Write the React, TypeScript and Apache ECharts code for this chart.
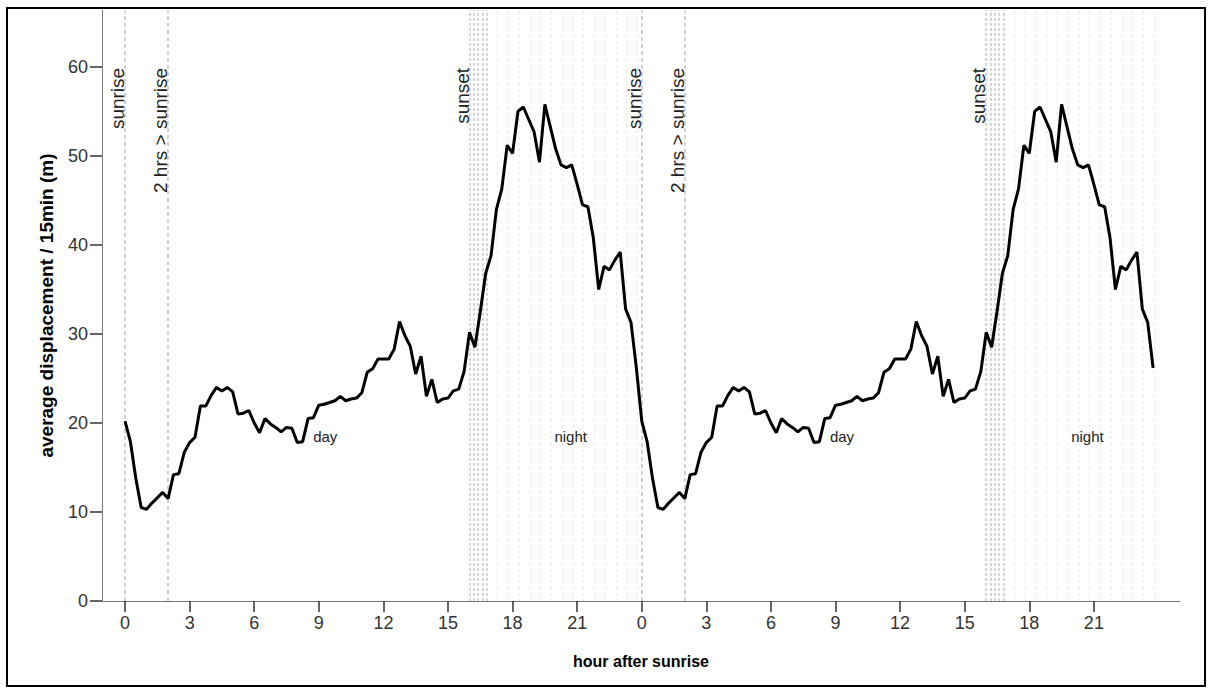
import React, { useEffect, useRef } from "react";
import * as echarts from "echarts";

// average displacement per 15-min slot, starting at sunrise (96 slots = 24 h)
const dayValues = [
  20.2, 17.9, 13.8, 10.5, 10.3, 11.0, 11.6, 12.2, 11.5, 14.2, 14.3, 16.7,
  17.8, 18.4, 21.9, 21.9, 23.1, 24.0, 23.6, 24.0, 23.5, 21.0, 21.1, 21.4,
  20.0, 18.9, 20.5, 19.9, 19.5, 19.0, 19.5, 19.4, 17.8, 17.9, 20.5, 20.6,
  22.0, 22.1, 22.3, 22.5, 23.0, 22.5, 22.7, 22.8, 23.4, 25.7, 26.1, 27.2,
  27.2, 27.2, 28.3, 31.4, 29.8, 28.6, 25.5, 27.5, 23.0, 24.9, 22.3, 22.7,
  22.8, 23.6, 23.8, 25.8, 30.2, 28.5, 32.5, 36.8, 38.8, 44.0, 46.3, 51.2,
  50.3, 55.0, 55.5, 54.1, 52.7, 49.3, 55.8, 53.3, 50.8, 49.0, 48.7, 49.0,
  46.8, 44.5, 44.3, 40.8, 35.0, 37.6, 37.2, 38.3, 39.2, 32.8, 31.3, 26.2,
];
const slotHours = 0.25;
const dayOffsets = [0, 24];

const xTickValues = [0, 3, 6, 9, 12, 15, 18, 21, 24, 27, 30, 33, 36, 39, 42, 45];
const yTickValues = [0, 10, 20, 30, 40, 50, 60];

const sunriseLines = [0, 2];
const sunsetLines = [16.0, 16.2, 16.4, 16.6, 16.8];
const nightLines = [17.3, 17.8, 18.3, 18.8, 19.3, 19.8, 20.3, 20.8, 21.3, 21.8, 22.3, 22.8, 23.3, 23.8];

const markerLabels = [
  { text: "sunrise", h: 0 },
  { text: "2 hrs > sunrise", h: 2 },
  { text: "sunset", h: 16 },
];
const periodLabels = [
  { text: "day", h: 9.3 },
  { text: "night", h: 20.7 },
];
const markerLabelTop = 59.9;
const periodLabelY = 18.5;

const FONT = "'Liberation Sans', Arial, sans-serif";

export default function App() {
  const ref = useRef<HTMLDivElement>(null);

  useEffect(() => {
    if (!ref.current) return;
    const chart = echarts.init(ref.current, undefined, { renderer: "svg" });

    const seriesData: number[][] = [];
    dayOffsets.forEach((off) => {
      dayValues.forEach((v, i) => seriesData.push([off + i * slotHours, v]));
    });

    const markData: any[] = [];
    dayOffsets.forEach((off) => {
      sunriseLines.forEach((h) =>
        markData.push({ xAxis: off + h, lineStyle: { type: [4, 3], color: "#c4c4c4", width: 1.5 } })
      );
      sunsetLines.forEach((h) =>
        markData.push({ xAxis: off + h, lineStyle: { type: [3, 2], color: "#c8c8c8", width: 1.5 } })
      );
      nightLines.forEach((h) =>
        markData.push({ xAxis: off + h, lineStyle: { type: [2, 4], color: "#e2e2e2", width: 1 } })
      );
    });

    const option: any = {
      animation: false,
      backgroundColor: "#ffffff",
      grid: { left: 102, top: 10, right: 30, bottom: 89 },
      xAxis: {
        type: "value",
        min: -1.07,
        max: 49,
        name: "hour after sunrise",
        nameLocation: "middle",
        nameGap: 52,
        nameTextStyle: { fontWeight: "bold", fontSize: 16, color: "#000", fontFamily: FONT },
        axisLine: { onZero: false, lineStyle: { color: "#777", width: 1 } },
        axisTick: { customValues: xTickValues, length: 11, lineStyle: { color: "#333", width: 1.5 } },
        axisLabel: {
          customValues: xTickValues,
          formatter: (v: number) => String(Math.round(v) % 24),
          margin: 13,
          fontSize: 18,
          color: "#333",
          fontFamily: FONT,
        },
        splitLine: { show: false },
      },
      yAxis: {
        type: "value",
        min: 0,
        max: 66.4,
        name: "average displacement / 15min (m)",
        nameLocation: "middle",
        nameGap: 46,
        nameTextStyle: { fontWeight: "bold", fontSize: 19, color: "#000", fontFamily: FONT },
        axisLine: { show: true, onZero: false, lineStyle: { color: "#777", width: 1 } },
        axisTick: { show: true, customValues: yTickValues, length: 12, lineStyle: { color: "#333", width: 1.5 } },
        axisLabel: { customValues: yTickValues, margin: 14, fontSize: 18, color: "#333", fontFamily: FONT },
        splitLine: { show: false },
      },
      series: [
        {
          type: "line",
          data: seriesData,
          showSymbol: false,
          lineStyle: { color: "#000", width: 3 },
          z: 5,
          markLine: {
            silent: true,
            symbol: ["none", "none"],
            label: { show: false },
            data: markData,
            z: 1,
          },
        },
      ],
    };
    chart.setOption(option);

    const px = (h: number, v: number) => chart.convertToPixel({ gridIndex: 0 }, [h, v]) as number[];
    const graphics: any[] = [
      {
        type: "rect",
        shape: { x: 7, y: 8, width: 1198, height: 678 },
        style: { fill: "none", stroke: "#000", lineWidth: 2 },
        silent: true,
        z: 100,
      },
    ];
    dayOffsets.forEach((off) => {
      markerLabels.forEach((m) => {
        const p = px(off + m.h, markerLabelTop);
        graphics.push({
          type: "text",
          x: p[0] + 2,
          y: p[1],
          rotation: Math.PI / 2,
          style: { text: m.text, align: "right", verticalAlign: "bottom", fontSize: 19, fill: "#222", fontFamily: FONT },
          z: 50,
        });
      });
      periodLabels.forEach((m) => {
        const p = px(off + m.h, periodLabelY);
        graphics.push({
          type: "text",
          x: p[0],
          y: p[1],
          style: { text: m.text, align: "center", verticalAlign: "middle", fontSize: 15, fill: "#222", fontFamily: FONT },
          z: 50,
        });
      });
    });
    chart.setOption({ graphic: graphics });

    return () => chart.dispose();
  }, []);

  return (
    <div
      ref={ref}
      style={{ position: "fixed", left: 0, top: 0, width: 1210, height: 690, background: "#fff" }}
    />
  );
}
